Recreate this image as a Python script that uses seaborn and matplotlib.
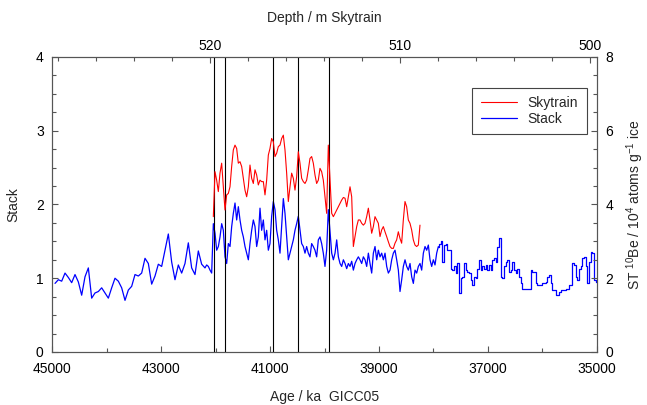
import numpy as np
import matplotlib
matplotlib.use('Agg')
import matplotlib.pyplot as plt
from matplotlib.ticker import MultipleLocator, FixedLocator
import seaborn as sns

# Stack (left axis) in four pieces with regular age spacing
stack_a = [0.93, 0.98, 0.96, 1.07, 1.01, 0.94, 1.05, 0.95, 0.77, 1.02, 1.14, 0.73, 0.80, 0.82, 0.87, 0.80,
           0.73, 0.87, 1.00, 0.96, 0.87, 0.70, 0.84, 0.89, 1.05, 1.03, 1.07, 1.27, 1.20, 0.92, 1.03, 1.19,
           1.16, 1.38, 1.60, 1.22, 0.98, 1.18, 1.07, 1.20, 1.48, 1.14, 1.05, 1.37, 1.19, 1.14]
stack_b = [1.18, 1.16, 1.11, 1.07, 1.74, 1.61, 1.38, 1.43, 1.56, 1.74, 1.65, 1.29, 1.20, 1.47, 1.43, 1.70,
           1.88, 2.02, 1.79, 1.97, 1.79, 1.65, 1.56, 1.43, 1.34, 1.25, 1.47, 1.65, 1.79, 1.70, 1.43, 1.56,
           1.95, 1.65, 1.79, 1.52, 1.65, 1.38, 1.47, 1.84, 2.04, 1.93, 1.65, 1.52, 1.34, 1.70, 2.08, 1.88,
           1.56, 1.25, 1.34, 1.43, 1.52, 1.65, 1.74, 1.84, 1.65, 1.47, 1.43, 1.34, 1.43, 1.34, 1.29, 1.47,
           1.43, 1.38, 1.29, 1.52, 1.56, 1.47, 1.34, 1.16, 1.38, 1.93]
stack_c = [1.34, 1.25, 1.34, 1.52, 1.29, 1.20, 1.16, 1.25, 1.20, 1.13, 1.20, 1.16, 1.23, 1.11, 1.20, 1.25,
           1.29, 1.25, 1.20, 1.29, 1.25, 1.16, 1.34, 1.20, 1.07, 1.34, 1.43, 1.25, 1.38, 1.29, 1.34, 1.25,
           1.34, 1.16, 1.07, 1.11, 1.25, 1.34, 1.38, 1.25, 1.11, 0.82, 0.98, 1.16, 1.25, 1.16, 1.11, 1.20,
           1.02, 0.93, 1.11, 1.07, 1.16, 1.20, 1.11, 1.34, 1.43, 1.38, 1.45, 1.25, 1.16, 1.25, 1.18, 1.34,
           1.43]
stack_d = [1.47, 1.50, 1.22, 1.45, 1.47, 1.38, 1.38, 1.13, 1.11, 1.16, 1.07, 1.20, 0.80, 1.00, 1.02, 1.20,
           1.11, 1.09, 1.07, 0.98, 0.91, 1.02, 1.00, 1.13, 1.25, 1.11, 1.16, 1.13, 1.18, 1.11, 1.18, 1.11,
           1.25, 1.27, 1.22, 1.43, 1.54, 1.02, 1.00, 1.16, 1.22, 1.25, 1.09, 1.11, 1.22, 1.11, 1.07, 1.13,
           1.02, 0.93, 0.86, 0.86, 0.86, 0.86, 0.86, 1.11, 1.09, 1.09, 0.93, 0.91, 0.91, 0.91, 0.93, 0.93,
           0.95, 1.02, 1.04, 0.93, 0.84, 0.84, 0.77, 0.77, 0.82, 0.84, 0.84, 0.84, 0.86, 0.86, 0.91, 0.91,
           1.20, 1.18, 1.02, 0.98, 1.13, 1.16, 1.27, 1.29, 1.16, 0.93, 1.22, 1.36, 1.34, 0.98, 0.95, 0.98]
stack_age_ranges = [(44945, 42193), (42162, 39930), (39868, 37911), (37881, 34976)]

# Skytrain 10Be (right axis)
sky_a = [3.67, 4.89, 4.66, 4.35, 4.85, 5.12, 4.48, 3.85, 4.26, 4.30, 4.48, 5.03, 5.48, 5.61, 5.52, 5.12,
         5.16, 5.03, 4.71, 4.39, 4.21, 4.48, 5.07, 4.71, 4.57, 4.94, 4.80, 4.53, 4.66, 4.62, 4.62, 4.26,
         4.66, 5.34, 5.52, 5.79, 5.70, 5.30, 5.39, 5.57, 5.61, 5.79, 5.88, 5.48, 4.85, 4.08, 4.48, 4.85,
         4.71, 4.39, 4.75, 5.43, 5.12, 4.71, 4.62, 4.57, 4.66, 4.94, 5.25, 5.30, 5.12, 4.80, 4.57, 4.66,
         4.98, 4.89, 4.66, 4.21, 3.76, 5.61]
sky_b = [3.76, 3.67, 3.76, 3.85, 3.94, 4.03, 4.12, 4.19, 4.17, 3.94, 4.21, 4.48, 4.21, 2.86, 3.13, 3.40,
         3.58, 3.58, 3.49, 3.44, 3.49, 3.67, 3.90, 3.58, 3.22, 3.40, 3.67, 3.58, 3.49, 3.13, 3.31, 3.40,
         3.26, 3.13, 2.99, 2.86, 2.81, 2.81, 2.95, 3.04, 3.26, 3.08, 2.95, 3.58, 4.08, 3.94, 3.58, 3.49,
         3.31, 3.04, 2.90, 2.86, 2.90, 3.44]
sky_age_ranges = [(42040, 39930), (39868, 38248)]

event_ages = [42035, 41818, 40951, 40490, 39916]

pieces = [stack_a, stack_b, stack_c, stack_d]
ages = [np.linspace(a0, a1, len(v)) for (a0, a1), v in zip(stack_age_ranges, pieces)]
# dense older part drawn as a line, younger part (coarser record) as steps
dense_age = np.concatenate(ages[:3])
dense_vals = stack_a + stack_b + stack_c
coarse_age = np.concatenate([[ages[2][-1]], ages[3]])
coarse_vals = [stack_c[-1]] + stack_d

sky_vals = sky_a + sky_b
sky_age = np.concatenate([np.linspace(a0, a1, len(v)) for (a0, a1), v in
                          zip(sky_age_ranges, [sky_a, sky_b])])


def age2depth(a):
    return 520 - (42101 - np.asarray(a, dtype=float)) / 348.65


def depth2age(d):
    return 42101 - (520 - np.asarray(d, dtype=float)) * 348.65


sns.set_style('ticks')
plt.rcParams['font.family'] = ['Liberation Sans', 'DejaVu Sans']
plt.rcParams['mathtext.fontset'] = 'custom'
plt.rcParams['mathtext.rm'] = 'Liberation Sans'
plt.rcParams['mathtext.default'] = 'regular'
plt.rcParams['font.size'] = 10

fig = plt.figure(figsize=(6.47, 4.05), dpi=100)
ax = fig.add_axes([0.0804, 0.1309, 0.8423, 0.7284])
ax2 = ax.twinx()

for a in event_ages:
    ax.axvline(a, color='black', lw=0.8, zorder=3)

sns.lineplot(x=sky_age, y=sky_vals, ax=ax2, color='red', lw=0.8, estimator=None, sort=False, label='Skytrain')
sns.lineplot(x=dense_age, y=dense_vals, ax=ax, color='blue', lw=0.9, estimator=None, sort=False, label='Stack')
sns.lineplot(x=coarse_age, y=coarse_vals, ax=ax, color='blue', lw=0.9, estimator=None, sort=False,
             drawstyle='steps-mid')

ax.set_xlim(45000, 35000)
ax.set_ylim(0, 4)
ax2.set_ylim(0, 8)

ax.xaxis.set_major_locator(FixedLocator([45000, 43000, 41000, 39000, 37000, 35000]))
ax.xaxis.set_minor_locator(MultipleLocator(1000))
ax.yaxis.set_major_locator(MultipleLocator(1))
ax.yaxis.set_minor_locator(MultipleLocator(0.25))
ax2.yaxis.set_major_locator(MultipleLocator(2))
ax2.yaxis.set_minor_locator(MultipleLocator(0.5))

ax.set_xlabel('Age / ka  GICC05', labelpad=10)
ax.set_ylabel('Stack', labelpad=11)
ax2.set_ylabel('ST $^{10}$Be / 10$^{4}$ atoms g$^{-1}$ ice', labelpad=8)

top = ax.secondary_xaxis('top', functions=(age2depth, depth2age))
top.xaxis.set_major_locator(FixedLocator([500, 510, 520]))
top.xaxis.set_minor_locator(FixedLocator(list(range(500, 530, 2))))
top.set_xlabel('Depth / m Skytrain', labelpad=12)
top.tick_params(which='major', direction='in', length=4, width=0.8, pad=3, colors='#555555', labelcolor='black')
top.tick_params(which='minor', direction='in', length=3, width=0.8, colors='#555555')
top.spines['top'].set_visible(False)

for axis in (ax, ax2):
    axis.tick_params(which='major', direction='in', length=4, width=0.8, colors='#555555', labelcolor='black')
    axis.tick_params(which='minor', direction='in', length=3, width=0.8, colors='#555555')
    for s in axis.spines.values():
        s.set_color('#555555')
        s.set_linewidth(0.8)
ax.tick_params(axis='x', which='major', pad=7)
ax.tick_params(axis='y', which='major', pad=6)
ax2.tick_params(axis='y', which='major', pad=6)

h1, l1 = ax2.get_legend_handles_labels()
h2, l2 = ax.get_legend_handles_labels()
if ax.get_legend():
    ax.get_legend().remove()
if ax2.get_legend():
    ax2.get_legend().remove()
leg = ax2.legend(h1 + h2, l1 + l2, loc='upper left', bbox_to_anchor=(0.771, 0.895), frameon=True,
                 fancybox=False, edgecolor='#444444', framealpha=1, handlelength=2.6, borderpad=0.6,
                 handletextpad=0.8, borderaxespad=0, labelspacing=0.1, fontsize=10)
leg.get_frame().set_linewidth(0.8)

fig.savefig('out.png', dpi=100)
